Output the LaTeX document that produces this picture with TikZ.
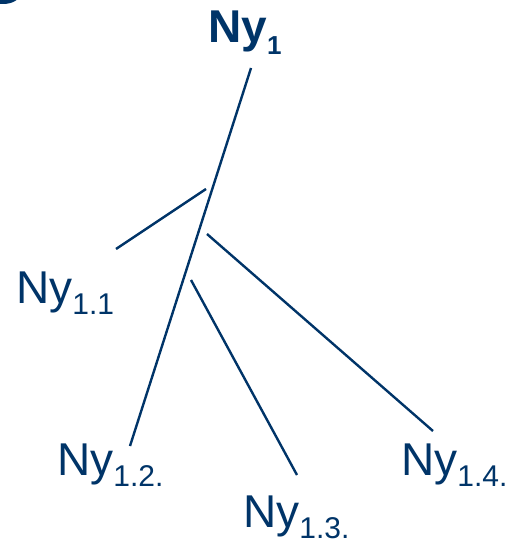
\documentclass[tikz,border=0pt]{standalone}
\usepackage{fontspec}
\setmainfont{Liberation Sans}
\usepackage{tikz}
\usetikzlibrary{positioning}
\definecolor{navy}{RGB}{0, 52, 104}
\newcommand{\nylabel}[1]{Ny\raisebox{-11pt}{\fontsize{30}{30}\selectfont #1}}
\newcommand{\nyroot}[1]{\textbf{Ny\raisebox{-12pt}{\fontsize{26}{26}\selectfont #1}}}
\tikzstyle{leaf} = [draw=none, fill=none, inner sep=0pt, text=navy, anchor=base west, font=\fontsize{46}{46}\selectfont]
\tikzstyle{branch} = [draw=navy, line width=2.4pt]

\begin{document}
\begin{tikzpicture}[x=1pt, y=-1pt]
\useasboundingbox (0,0) rectangle (509,540);

% corner blob ================================
\fill[navy] (3,-6) ellipse [x radius=17, y radius=10];

% labels =====================================
\node[leaf] (ny1) at (208,43) {\nyroot{1}};
\node[leaf] (ny11) at (16,303) {\nylabel{1.1}};
\node[leaf] (ny12) at (57,475) {\nylabel{1.2.}};
\node[leaf] (ny13) at (243,527) {\nylabel{1.3.}};
\node[leaf] (ny14) at (401,475) {\nylabel{1.4.}};

% end points of the lines
\coordinate (top) at (251,68);
\coordinate (bot12) at (130,446);
\coordinate (fork11) at (206,189);
\coordinate (end11) at (116,249);
\coordinate (fork14) at (207,234);
\coordinate (end14) at (433,431);
\coordinate (fork13) at (191,280);
\coordinate (end13) at (297,475);

% edges
\draw[branch] (top) -- (bot12);
\draw[branch] (fork11) -- (end11);
\draw[branch] (fork14) -- (end14);
\draw[branch] (fork13) -- (end13);

\end{tikzpicture}
\end{document}
